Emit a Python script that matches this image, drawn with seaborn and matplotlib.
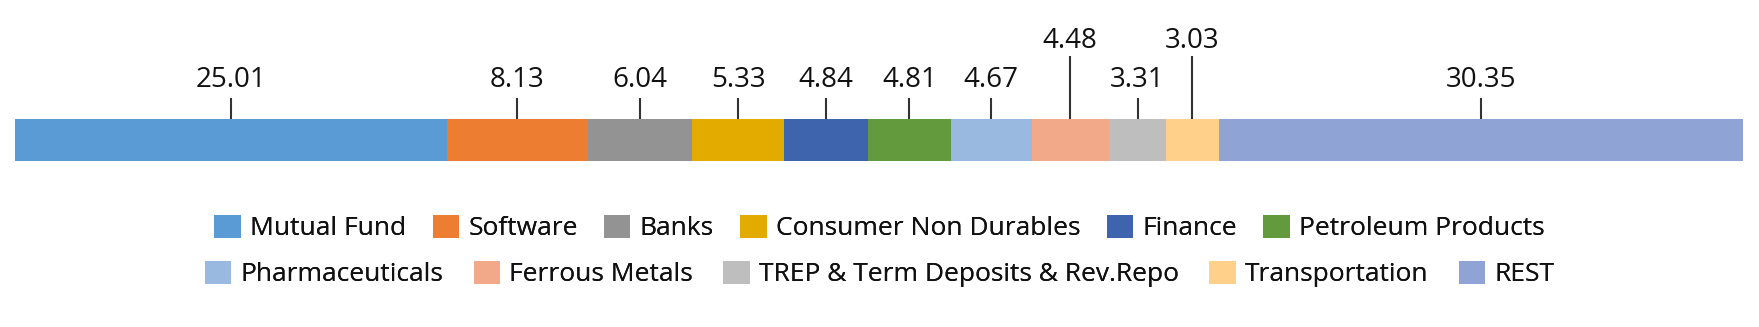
import matplotlib
matplotlib.use("Agg")
import matplotlib.pyplot as plt
from matplotlib.patches import Patch
import numpy as np
import pandas as pd
import seaborn as sns

# Portfolio allocation by sector (% of net assets)
sectors = [
    "Mutual Fund", "Software", "Banks", "Consumer Non Durables", "Finance",
    "Petroleum Products", "Pharmaceuticals", "Ferrous Metals",
    "TREP & Term Deposits & Rev.Repo", "Transportation", "REST",
]
weights = [25.01, 8.13, 6.04, 5.33, 4.84, 4.81, 4.67, 4.48, 3.31, 3.03, 30.35]
colors = [
    "#5B9BD5", "#ED7D31", "#939393", "#E3AB00", "#3D64AD",
    "#639A3E", "#9AB9E0", "#F1A98A", "#BEBEBE", "#FFD08A", "#8FA4D4",
]
# labels lifted higher to avoid crowding over the narrow segments
raised = ["Ferrous Metals", "Transportation"]
legend_rows = [sectors[:6], sectors[6:]]

sns.set_theme(style="white")
plt.rcParams["font.family"] = ["Open Sans", "DejaVu Sans"]

W, H = 1759, 327
fig = plt.figure(figsize=(W / 100, H / 100), dpi=100)
fig.patch.set_facecolor("white")

bar_left, bar_right, bar_top, bar_bottom = 15, 1743, 119, 161
ax = fig.add_axes([bar_left / W, 1 - bar_bottom / H,
                   (bar_right - bar_left) / W, (bar_bottom - bar_top) / H])

df = pd.DataFrame({"sector": sectors, "weight": weights, "color": colors})
df["end"] = df["weight"].cumsum()
df["start"] = df["end"] - df["weight"]
df["mid"] = df["start"] + df["weight"] / 2
df["row"] = "Allocation"

# stacked bar: draw cumulative extents from the widest down so each segment shows
for _, r in df.iloc[::-1].iterrows():
    sns.barplot(x=[r["end"]], y=[r["row"]], orient="h", color=r["color"],
                saturation=1, width=1, linewidth=0, ax=ax)

ax.set_xlim(0, df["end"].iloc[-1])
ax.set_ylim(0.5, -0.5)
ax.axis("off")

axh = bar_bottom - bar_top
xt = ax.get_xaxis_transform()
for _, r in df.iterrows():
    up = r["sector"] in raised
    tick_len = 63 if up else 21
    base = 71 if up else 32
    ax.vlines(r["mid"], 1, 1 + tick_len / axh, transform=xt, colors="#333333",
              linewidth=1.5, clip_on=False)
    ax.annotate(f"{r['weight']:.2f}", xy=(r["mid"], 1), xycoords=xt,
                xytext=(0, base), textcoords="offset pixels",
                ha="center", va="baseline", fontsize=20, color="#111111")

# two legend rows, each centred under the bar
color_of = dict(zip(sectors, colors))
for row, yc, gap in zip(legend_rows, [228, 274], [1.0, 1.15]):
    handles = [Patch(facecolor=color_of[s], edgecolor="none") for s in row]
    leg = fig.legend(handles, row, loc="center", bbox_to_anchor=(0.5, 1 - yc / H),
                     ncol=len(row), frameon=False, fontsize=19,
                     handlelength=1.0, handleheight=1.0, handletextpad=0.35,
                     columnspacing=gap, borderpad=0, labelcolor="#111111")
    fig.add_artist(leg)

fig.savefig("out.png", dpi=100, facecolor="white")
